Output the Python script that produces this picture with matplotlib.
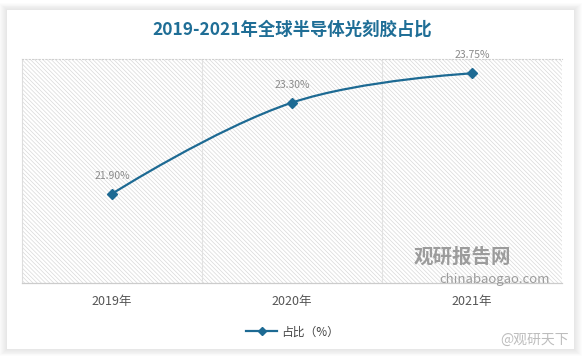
import matplotlib
matplotlib.use("Agg")
import matplotlib.pyplot as plt
import numpy as np
from matplotlib.patches import Rectangle, PathPatch
from matplotlib.path import Path

plt.rcParams['font.family'] = ['Noto Sans CJK SC', 'DejaVu Sans']
plt.rcParams['hatch.linewidth'] = 0.5

TITLE = "2019-2021年全球半导体光刻胶占比"
years = ["2019年", "2020年", "2021年"]
share = [21.90, 23.30, 23.75]
SERIES = "占比（%）"
BLUE = "#1d6a93"

W, H = 585, 361
fig = plt.figure(figsize=(W / 100, H / 100), dpi=100, facecolor="white")

# card with soft shadow
for k in range(8, 0, -1):
    fig.patches.append(Rectangle(((7 - k) / W, (12 - k * 0.9) / H), (567 + 2 * k) / W, (339 + 1.8 * k) / H,
                                 transform=fig.transFigure, facecolor="#000000", alpha=0.013,
                                 edgecolor="none", zorder=0))
fig.patches.append(Rectangle((7 / W, 12 / H), 567 / W, 339 / H, transform=fig.transFigure,
                             facecolor="white", edgecolor="none", zorder=1))

ax = fig.add_axes([22 / W, (H - 283) / H, 540 / W, 224 / H])
ax.set_zorder(2)
ax.set_facecolor("none")
x = np.arange(len(years))
ax.set_xlim(-0.5, len(years) - 0.5)
ax.set_ylim(20.53, 23.97)

ax.add_patch(Rectangle((0, 0), 1, 1, transform=ax.transAxes, facecolor="white",
                       edgecolor="#d9d9d9", lw=0, hatch="\\" * 8, zorder=0))
for b in x[:-1] + 0.5:
    ax.axvline(b, color="#e2e2e2", lw=0.8, zorder=1)

# smooth line (echarts-like bezier), computed in pixel-scaled space
sx, sy = 180.0, 65.0
pts = np.column_stack([x * sx, np.array(share) * sy])
n = len(pts)
cps = []
for i in range(n):
    if i == 0 or i == n - 1:
        cps.append((pts[i], pts[i]))
        continue
    v = pts[i + 1] - pts[i - 1]
    d0 = np.linalg.norm(pts[i] - pts[i - 1])
    d1 = np.linalg.norm(pts[i + 1] - pts[i])
    s = d0 + d1
    cps.append((pts[i] - v * d0 / s * 0.4, pts[i] + v * d1 / s * 0.4))
verts = [pts[0]]
codes = [Path.MOVETO]
for i in range(n - 1):
    verts += [cps[i][1], cps[i + 1][0], pts[i + 1]]
    codes += [Path.CURVE4] * 3
verts = np.array(verts) / np.array([sx, sy])
ax.add_patch(PathPatch(Path(verts, codes), facecolor="none", edgecolor=BLUE, lw=1.6, zorder=3))
ax.plot(x, share, ls="none", marker="D", ms=5, color=BLUE, zorder=4)

for xi, v in zip(x, share):
    ax.annotate(f"{v:.2f}%", (xi, v), xytext=(0, 13), textcoords="offset points",
                ha="center", va="center", fontsize=7.5, color="#8a8a8a", zorder=5)

ax.spines["right"].set_visible(False)
ax.spines["left"].set_color("#dddddd")
ax.spines["left"].set_linewidth(0.8)
ax.spines["top"].set_color("#cfcfcf")
ax.spines["top"].set_linestyle((0, (1, 2)))
ax.spines["top"].set_linewidth(0.8)
ax.spines["bottom"].set_color("#cccccc")
ax.spines["bottom"].set_linewidth(0.9)
ax.set_yticks([])
ax.set_xticks(x)
ax.set_xticklabels(years, fontsize=9, color="#555555")
ax.tick_params(axis="x", length=0, pad=9)

fig.text(0.5, 1 - 30 / H, TITLE, ha="center", va="center", fontsize=12.5, fontweight="bold", color="#1f6e96")

# legend
lh, = ax.plot([], [], color=BLUE, lw=1.6, marker="D", ms=4)
fig.legend([lh], [SERIES], loc="center", bbox_to_anchor=(0.5, 1 - 332 / H), frameon=False,
           fontsize=8.5, handlelength=2.6, handletextpad=0.3, labelcolor="#444444")

# watermarks
fig.text(462 / W, 1 - 257 / H, "观研报告网", ha="center", va="center", fontsize=14,
         fontweight="bold", color="#8c8c8c", alpha=0.85, zorder=6)
fig.text(495 / W, 1 - 279 / H, "chinabaogao.com", ha="center", va="center", fontsize=9.5,
         color="#8c8c8c", alpha=0.85, zorder=6)
fig.text(535 / W, 1 - 340 / H, "@观研天下", ha="center", va="center", fontsize=10,
         color="#bdbdbd", zorder=6)

fig.savefig("out.png", dpi=100, facecolor=fig.get_facecolor())
